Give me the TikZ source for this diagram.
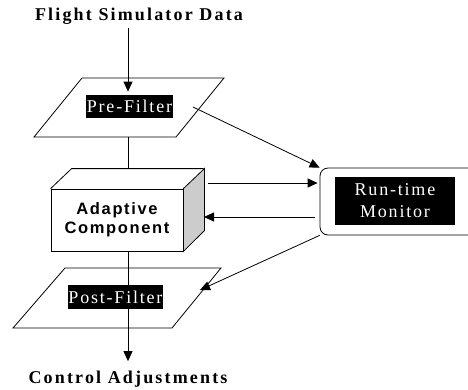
\documentclass[tikz,border=0pt]{standalone}
\usepackage{fontspec}
\setmainfont{Liberation Serif}[LetterSpace=10]
\newfontfamily\headserif{Liberation Serif}[LetterSpace=12]
\newfontfamily\boxsans{Liberation Sans}[LetterSpace=10]
\usetikzlibrary{arrows.meta}

\begin{document}
\begin{tikzpicture}[x=1pt,y=-1pt,line width=0.8pt,
  arr/.style={-{Triangle[length=10pt,width=9pt]}},
  tag/.style={fill=black,text=white,inner sep=0pt,align=center,font=\fontsize{18}{22}\selectfont},
  heading/.style={font=\headserif\bfseries\fontsize{18}{20}\selectfont}]
\useasboundingbox (0,0) rectangle (468,389);
\clip (0,0) rectangle (468,389);

\node[heading] (fsd) at (139,16) {Flight Simulator Data};
\node[heading] (ca) at (128,379) {Control Adjustments};

\draw (82,78) -- (224,78) -- (176,137) -- (34,137) -- cycle;
\node[tag,minimum width=87,minimum height=23] (pre) at (129.5,106.5) {Pre-Filter};

\draw (65,268) -- (221,268) -- (172,328) -- (13,328) -- cycle;
\node[tag,minimum width=95,minimum height=24] (post) at (115.5,297) {Post-Filter};

\node[draw,fill=white,minimum width=132,minimum height=62,inner sep=0pt,align=center,
  font=\boxsans\bfseries\fontsize{16.5}{19}\selectfont] (adapt) at (117,220) {Adaptive\\Component};
\draw[fill=gray!40] (adapt.north east) -- ++(21,-20) -- ++(0,62) -- (adapt.south east) -- cycle;
\draw (adapt.north west) -- ++(21,-20) -- ++(132,0);

\node[draw,rounded corners=8pt,minimum width=170,minimum height=67] (mon) at (405,201.5) {};
\node[tag,minimum width=120,minimum height=48] (monlabel) at (395,201) {Run-time\\Monitor};

\coordinate (prebot) at (128,137);
\coordinate (cubetop) at (128,169);
\coordinate (preout) at (193,107);
\coordinate (sideout) at (208,183);
\coordinate (sidein) at (204,217);
\coordinate (postin) at (200,290);

\draw[arr,shorten >=3pt] (fsd.south -| prebot) -- (pre.north -| prebot);
\draw (prebot) -- (cubetop);
\draw[arr] (preout) -- (mon.north west);
\draw[arr,shorten >=2pt] (sideout) -- (sideout -| mon.west);
\draw[arr,shorten <=5pt] (sidein -| mon.west) -- (sidein);
\draw[arr] (mon.south west) -- (postin);
\draw (adapt.south -| prebot) -- (post.north -| prebot);
\draw[arr,shorten >=6pt] (post.south -| prebot) -- (ca.north -| prebot);
\end{tikzpicture}
\end{document}
